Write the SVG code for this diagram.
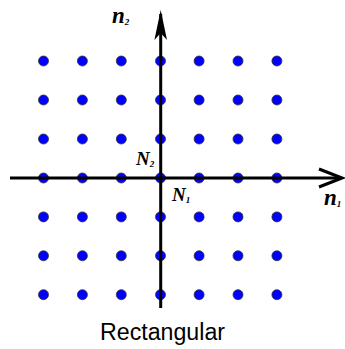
<svg xmlns="http://www.w3.org/2000/svg" width="345" height="349" viewBox="0 0 345 349">
<style>
.d{fill:#0000ff;stroke:#333;stroke-width:0.8}
.ax{stroke:#000;stroke-width:3;fill:none}
.lb{font-family:"Liberation Serif",serif;font-style:italic;fill:#000}
.cap{font-family:"Liberation Sans",sans-serif;font-size:23px;fill:#000}
</style>
<g id="dots">
<g id="r0"><circle class="d" cx="43.5" cy="61" r="5"/><circle class="d" cx="82.4" cy="61" r="5"/><circle class="d" cx="121.3" cy="61" r="5"/><circle class="d" cx="160.5" cy="61" r="5"/><circle class="d" cx="199.1" cy="61" r="5"/><circle class="d" cx="238" cy="61" r="5"/><circle class="d" cx="276.9" cy="61" r="5"/></g>
<g id="r1"><circle class="d" cx="43.5" cy="100" r="5"/><circle class="d" cx="82.4" cy="100" r="5"/><circle class="d" cx="121.3" cy="100" r="5"/><circle class="d" cx="160.5" cy="100" r="5"/><circle class="d" cx="199.1" cy="100" r="5"/><circle class="d" cx="238" cy="100" r="5"/><circle class="d" cx="276.9" cy="100" r="5"/></g>
<g id="r2"><circle class="d" cx="43.5" cy="139" r="5"/><circle class="d" cx="82.4" cy="139" r="5"/><circle class="d" cx="121.3" cy="139" r="5"/><circle class="d" cx="160.5" cy="139" r="5"/><circle class="d" cx="199.1" cy="139" r="5"/><circle class="d" cx="238" cy="139" r="5"/><circle class="d" cx="276.9" cy="139" r="5"/></g>
<g id="r3"><circle class="d" cx="43.5" cy="178" r="5"/><circle class="d" cx="82.4" cy="178" r="5"/><circle class="d" cx="121.3" cy="178" r="5"/><circle class="d" cx="160.5" cy="178" r="5"/><circle class="d" cx="199.1" cy="178" r="5"/><circle class="d" cx="238" cy="178" r="5"/><circle class="d" cx="276.9" cy="178" r="5"/></g>
<g id="r4"><circle class="d" cx="43.5" cy="216.9" r="5"/><circle class="d" cx="82.4" cy="216.9" r="5"/><circle class="d" cx="121.3" cy="216.9" r="5"/><circle class="d" cx="160.5" cy="216.9" r="5"/><circle class="d" cx="199.1" cy="216.9" r="5"/><circle class="d" cx="238" cy="216.9" r="5"/><circle class="d" cx="276.9" cy="216.9" r="5"/></g>
<g id="r5"><circle class="d" cx="43.5" cy="255.8" r="5"/><circle class="d" cx="82.4" cy="255.8" r="5"/><circle class="d" cx="121.3" cy="255.8" r="5"/><circle class="d" cx="160.5" cy="255.8" r="5"/><circle class="d" cx="199.1" cy="255.8" r="5"/><circle class="d" cx="238" cy="255.8" r="5"/><circle class="d" cx="276.9" cy="255.8" r="5"/></g>
<g id="r6"><circle class="d" cx="43.5" cy="294.7" r="5"/><circle class="d" cx="82.4" cy="294.7" r="5"/><circle class="d" cx="121.3" cy="294.7" r="5"/><circle class="d" cx="160.5" cy="294.7" r="5"/><circle class="d" cx="199.1" cy="294.7" r="5"/><circle class="d" cx="238" cy="294.7" r="5"/><circle class="d" cx="276.9" cy="294.7" r="5"/></g>
</g>
<g id="axes">
<line class="ax" x1="10" y1="178" x2="341" y2="178"/>
<path class="ax" d="M319,169 L342,178 L319,187"/>
<line class="ax" x1="160.7" y1="308" x2="160.7" y2="14"/>
<path d="M160.7,10 L167,40 L160.7,33 L154.4,40 Z" fill="#000"/>
</g>
<g id="labels">
<text class="lb" x="112" y="23" font-size="23" font-weight="bold">n<tspan font-size="9" dy="2">2</tspan></text>
<text class="lb" x="136" y="165" font-size="19" font-weight="bold">N<tspan font-size="9" dy="2">2</tspan></text>
<text class="lb" x="172" y="201" font-size="19" font-weight="bold">N<tspan font-size="9" dy="2">1</tspan></text>
<text class="lb" x="324" y="205" font-size="23" font-weight="bold">n<tspan font-size="9" dy="2">1</tspan></text>
<text class="cap" x="100" y="340" textLength="125" lengthAdjust="spacingAndGlyphs">Rectangular</text>
</g>
</svg>
